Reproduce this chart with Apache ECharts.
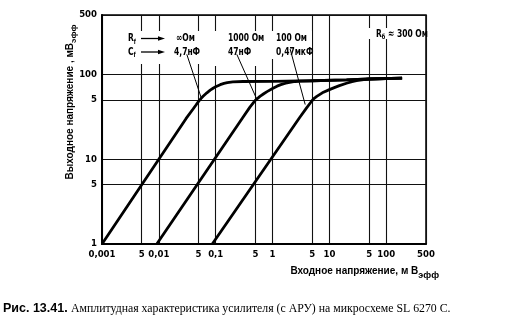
<!DOCTYPE html>
<html>
<head>
<meta charset="utf-8">
<script src="https://cdn.jsdelivr.net/npm/echarts@6/dist/echarts.min.js"></script>
<style>
  html, body { margin: 0; padding: 0; background: #fff; }
  #chart { width: 513px; height: 328px; }
</style>
</head>
<body>
<div id="chart"></div>
<script>
// Axis ticks (log scales) and their printed labels
const xTicks = [0.001, 0.005, 0.01, 0.05, 0.1, 0.5, 1, 5, 10, 50, 100, 500];
const xTickLabels = ['0,001', '5', '0,01', '5', '0,1', '5', '1', '5', '10', '5', '100', '500'];
const yTicks = [1, 5, 10, 50, 100, 500];
const yTickLabels = ['1', '5', '10', '5', '100', '500'];

// Curve 1: Rf = ∞ Ом, Cf = 4,7 нФ  (input mV rms -> output mV rms)
const inInf  = [0.001, 0.03, 0.04, 0.045, 0.05, 0.055, 0.06, 0.07, 0.08, 0.09, 0.1, 0.12, 0.14, 0.16, 0.2, 0.3, 1, 5, 20, 50, 190];
const outInf = [1, 30, 39, 43.5, 48, 51.8, 55, 60.5, 65, 68.5, 71.5, 75.5, 78.3, 80, 81.5, 82.3, 82.5, 84, 86, 88, 90];

// Curve 2: Rf = 1000 Ом, Cf = 47 нФ
const in1000  = [0.0092, 0.3, 0.4, 0.5, 0.6, 0.7, 0.8, 1.0, 1.2, 1.4, 1.7, 2.0, 2.5, 3.0, 5, 20, 50, 190];
const out1000 = [1, 31, 41, 49.5, 55, 59, 62.5, 68, 72.5, 75.5, 78.5, 80.5, 82.3, 83.2, 84, 86, 88, 90];

// Curve 3: Rf = 100 Ом, Cf = 0,47 мкФ
const in100  = [0.087, 3.0, 4.0, 4.9, 5.4, 6.0, 7.5, 10, 12.5, 15, 20, 25, 30, 40, 50, 190];
const out100 = [1, 31, 40.5, 48.5, 52.2, 55, 60.5, 66, 70.2, 73.5, 78.5, 82, 84.3, 86.8, 88, 90];

// Leader lines from the parameter captions to the curves
const leaderInf  = [[0.031, 172], [0.055, 54]];
const leader1000 = [[0.235, 172], [0.53, 50.6]];
const leader100  = [[2.04, 198], [3.75, 44]];

const zip = (xs, ys) => xs.map((x, i) => [x, ys[i]]);
const pickLabel = (ticks, labels) => v => {
  const i = ticks.findIndex(t => Math.abs(Math.log10(t) - Math.log10(v)) < 1e-6);
  return i >= 0 ? labels[i] : '';
};

const COND = '"DejaVu Sans Condensed", "Liberation Sans", sans-serif';
const SANS = '"Liberation Sans", Arial, sans-serif';
const SERIF = '"Liberation Serif", "DejaVu Serif", serif';

const curveStyle = { color: '#000', width: 2.8 };

function leader(pts) {
  return {
    silent: true,
    symbol: ['none', 'none'],
    label: { show: false },
    lineStyle: { color: '#000', width: 1, type: 'solid' },
    animation: false,
    data: [[{ coord: pts[0] }, { coord: pts[1] }]]
  };
}

function curve(name, xs, ys, pts) {
  return {
    name: name,
    type: 'line',
    data: zip(xs, ys),
    showSymbol: false,
    lineStyle: curveStyle,
    z: 5,
    markLine: leader(pts)
  };
}

// White boxes behind the parameter captions (they interrupt the grid)
const boxes = [
  [124, 31, 82, 33],
  [212, 31, 54, 35],
  [269, 31, 43, 28],
  [365, 28, 59, 11]
].map(b => ({
  type: 'rect', z: 3,
  shape: { x: b[0], y: b[1], width: b[2], height: b[3] },
  style: { fill: '#fff' }
}));

const capRich = {
  m: { fontFamily: COND, fontWeight: 'bold', fontSize: 10.5, fill: '#000' },
  s: { fontFamily: COND, fontWeight: 'bold', fontSize: 7, fill: '#000', padding: [7, 0, 0, 0] }
};

function capText(x, y, text) {
  return {
    type: 'text', z: 4, x: x, y: y, scaleX: 0.8,
    style: { text: text, rich: capRich, align: 'left', verticalAlign: 'middle' }
  };
}

function arrow(y) {
  return [
    { type: 'line', z: 4, shape: { x1: 141, y1: y, x2: 160, y2: y }, style: { stroke: '#000', lineWidth: 1.3 } },
    { type: 'polygon', z: 4, shape: { points: [[165, y], [158, y - 2.2], [158, y + 2.2]] }, style: { fill: '#000' } }
  ];
}

const axisLabelStyle = { color: '#000', fontFamily: COND, fontWeight: 'bold', fontSize: 9.5 };

const option = {
  animation: false,
  backgroundColor: '#fff',
  grid: {
    left: 102, right: 87, top: 15, bottom: 84,
    show: true, borderColor: '#000', borderWidth: 1.5, backgroundColor: 'transparent'
  },
  xAxis: {
    type: 'log', logBase: 10, min: 0.001, max: 500,
    axisLine: { show: true, onZero: false, lineStyle: { color: '#000', width: 2 } },
    axisTick: { show: false, customValues: xTicks },
    splitLine: { show: true, lineStyle: { color: '#111', width: 1.1 } },
    minorTick: { show: false }, minorSplitLine: { show: false },
    axisLabel: Object.assign({
      customValues: xTicks,
      formatter: pickLabel(xTicks, xTickLabels),
      margin: 6
    }, axisLabelStyle)
  },
  yAxis: {
    type: 'log', logBase: 10, min: 1, max: 500,
    axisLine: { show: true, onZero: false, lineStyle: { color: '#000', width: 2 } },
    axisTick: { show: false, customValues: yTicks },
    splitLine: { show: true, lineStyle: { color: '#111', width: 1.1 } },
    minorTick: { show: false }, minorSplitLine: { show: false },
    axisLabel: Object.assign({
      customValues: yTicks,
      formatter: pickLabel(yTicks, yTickLabels),
      margin: 5
    }, axisLabelStyle)
  },
  series: [
    curve('∞ Ом / 4,7 нФ', inInf, outInf, leaderInf),
    curve('1000 Ом / 47 нФ', in1000, out1000, leader1000),
    curve('100 Ом / 0,47 мкФ', in100, out100, leader100)
  ],
  graphic: [].concat(
    boxes,
    [
      capText(128, 38.5, '{m|R}{s|f}'),
      capText(128, 52, '{m|C}{s|f}'),
      capText(176, 38.5, '{m|∞Ом}'),
      capText(174, 52, '{m|4,7нФ}'),
      capText(228, 38.5, '{m|1000 Ом}'),
      capText(228, 52, '{m|47нФ}'),
      capText(276, 38.5, '{m|100 Ом}'),
      capText(276, 52, '{m|0,47мкФ}'),
      capText(376, 34, '{m|R}{s|б}{m| ≈ 300 Ом}')
    ],
    arrow(38.5),
    arrow(52),
    [
      // y-axis title
      {
        type: 'text', x: 70, y: 102, rotation: Math.PI / 2,
        style: {
          text: '{m|Выходное напряжение , мВ}{s|эфф}',
          align: 'center', verticalAlign: 'middle',
          rich: {
            m: { fontFamily: SANS, fontWeight: 'bold', fontSize: 10, fill: '#000' },
            s: { fontFamily: SANS, fontWeight: 'bold', fontSize: 8, fill: '#000', padding: [7, 0, 0, 0] }
          }
        }
      },
      // x-axis title
      {
        type: 'text', x: 439, y: 271,
        style: {
          text: '{m|Входное напряжение, м В}{s|эфф}',
          align: 'right', verticalAlign: 'middle',
          rich: {
            m: { fontFamily: SANS, fontWeight: 'bold', fontSize: 10, fill: '#000' },
            s: { fontFamily: SANS, fontWeight: 'bold', fontSize: 9, fill: '#000', padding: [9, 0, 0, 0] }
          }
        }
      },
      // figure caption
      {
        type: 'text', x: 3, y: 309,
        style: {
          text: '{b|Рис. 13.41.} {t|Амплитудная характеристика усилителя (с АРУ) на микросхеме SL 6270 С.}',
          align: 'left', verticalAlign: 'middle',
          rich: {
            b: { fontFamily: SANS, fontWeight: 'bold', fontSize: 12.5, fill: '#000' },
            t: { fontFamily: SERIF, fontSize: 11.8, fill: '#000' }
          }
        }
      }
    ]
  )
};

const chart = echarts.init(document.getElementById('chart'), null, { renderer: 'canvas' });
chart.setOption(option);
</script>
</body>
</html>
